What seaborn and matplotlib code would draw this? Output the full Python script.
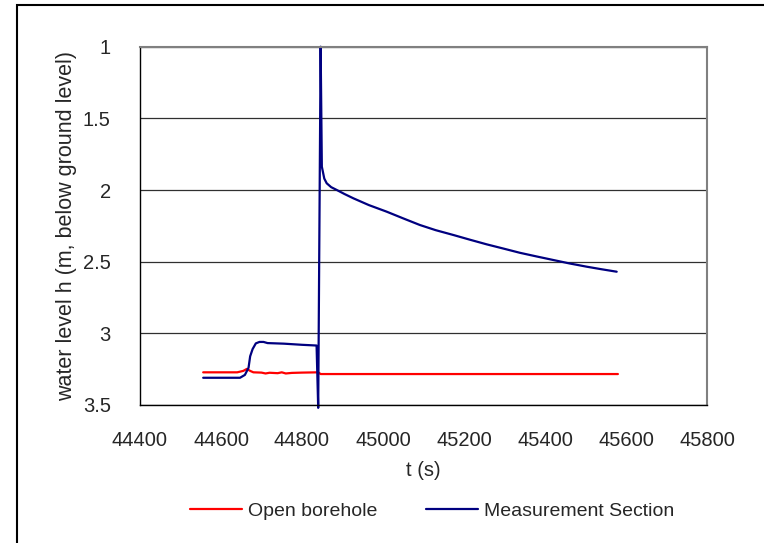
import matplotlib
matplotlib.use("Agg")
import matplotlib.pyplot as plt
import matplotlib.patches as mpatches
import seaborn as sns
import pandas as pd

# ---- data ----
t_open = [44556, 44640, 44655, 44664, 44672, 44680, 44700, 44710, 44720, 44740,
          44750, 44760, 44775, 44800, 44840, 44846, 45580]
h_open = [3.272, 3.272, 3.262, 3.248, 3.262, 3.272, 3.274, 3.280, 3.275, 3.278,
          3.272, 3.280, 3.276, 3.274, 3.272, 3.284, 3.284]

t_meas = [44556, 44647, 44659, 44668, 44672, 44678, 44686, 44695, 44705, 44715,
          44755, 44800, 44836, 44840, 44846, 44849, 44855, 44861, 44872, 44886,
          44905, 44927, 44965, 45009, 45050, 45091, 45130, 45174, 45215, 45256,
          45298, 45338, 45380, 45420, 45460, 45503, 45540, 45577]
h_meas = [3.31, 3.31, 3.29, 3.24, 3.16, 3.11, 3.07, 3.06, 3.06, 3.068,
          3.072, 3.08, 3.085, 3.52, 1.0, 1.837, 1.92, 1.953, 1.98, 2.0,
          2.028, 2.058, 2.105, 2.151, 2.198, 2.244, 2.280, 2.314, 2.347, 2.379,
          2.409, 2.438, 2.464, 2.488, 2.512, 2.535, 2.553, 2.570]

series_names = ["Open borehole", "Measurement Section"]
series_colors = ["#FF0000", "#000080"]
x_ticks = [44400, 44600, 44800, 45000, 45200, 45400, 45600, 45800]
y_ticks = [1, 1.5, 2, 2.5, 3, 3.5]
y_tick_labels = ["1", "1.5", "2", "2.5", "3", "3.5"]

df = pd.concat([
    pd.DataFrame({"t": t_open, "h": h_open, "series": series_names[0]}),
    pd.DataFrame({"t": t_meas, "h": h_meas, "series": series_names[1]}),
], ignore_index=True)

sns.set_style("white")
plt.rcParams["font.family"] = ["Liberation Sans", "DejaVu Sans"]

fig = plt.figure(figsize=(7.64, 5.43), dpi=100)
ax = fig.add_axes([140 / 764, 1 - 405 / 543, (707 - 140) / 764, (405 - 46.7) / 543])

sns.lineplot(data=df, x="t", y="h", hue="series", palette=series_colors,
             hue_order=series_names, estimator=None, sort=False, lw=1.6,
             ax=ax, legend=False)
for ln in ax.get_lines():
    ln.set_clip_on(False)

ax.set_xlim(44400, 45800)
ax.set_ylim(3.5, 1)
ax.set_xticks(x_ticks)
ax.set_xticklabels([str(v) for v in x_ticks])
ax.set_yticks(y_ticks)
ax.set_yticklabels(y_tick_labels)
ax.tick_params(axis="x", direction="out", length=5, width=1, color="black",
               labelsize=14.5, pad=14)
ax.tick_params(axis="y", direction="out", length=5, width=1, color="black",
               labelsize=14.5, pad=16)
ax.yaxis.grid(True, color="#303030", lw=0.9)
ax.xaxis.grid(False)
ax.set_axisbelow(True)

for s in ["left", "bottom"]:
    ax.spines[s].set_color("black")
    ax.spines[s].set_linewidth(1.0)
for s in ["top", "right"]:
    ax.spines[s].set_color("#808080")
    ax.spines[s].set_linewidth(1.5)

ax.set_xlabel("t (s)", fontsize=14.5, labelpad=8)
ax.set_ylabel("water level h (m, below ground level)", fontsize=15.5, labelpad=4)

handles = [plt.Line2D([], [], color=c, lw=1.6) for c in series_colors]
fig.legend(handles, series_names, loc="center", ncol=2, frameon=False,
           bbox_to_anchor=(432 / 764, 1 - 511 / 543), fontsize=14,
           handlelength=2.7, handletextpad=0.3, columnspacing=2.5)

border = mpatches.Rectangle((17 / 764, -0.2), 1.2, 1.2 - 5 / 543,
                            transform=fig.transFigure, fill=False,
                            edgecolor="black", lw=1.5, clip_on=False)
fig.patches.append(border)

fig.savefig("out.png", dpi=100)
